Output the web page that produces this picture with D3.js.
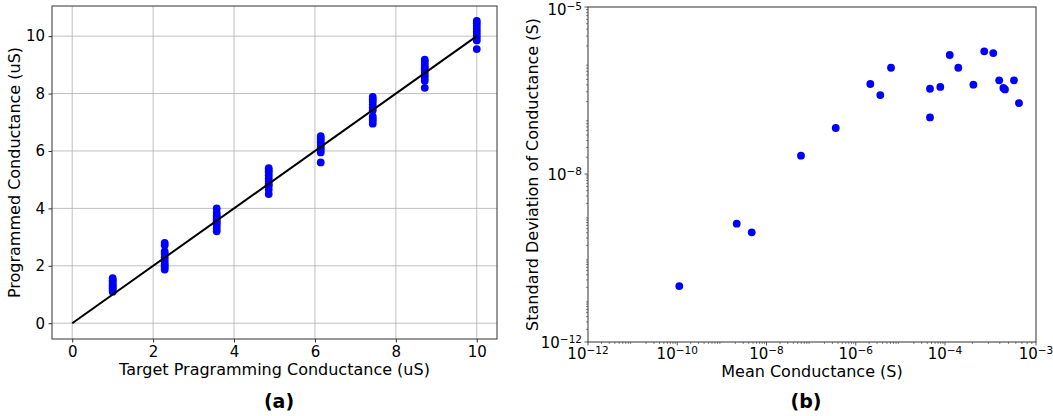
<!DOCTYPE html>
<html>
<head>
<meta charset="utf-8">
<script src="https://cdn.jsdelivr.net/npm/d3@7"></script>
<style>
  body { margin: 0; background: #fff; }
  text { font-family: "DejaVu Sans", sans-serif; fill: #000; }
</style>
</head>
<body>
<svg id="vis" width="1053" height="416"></svg>
<script>
// (a) programmed vs target conductance, uS
const targetLevels = [1, 2.2857, 3.5714, 4.8571, 6.1429, 7.4286, 8.7143, 10];
const programmed = [
  [1.57, 1.5, 1.44, 1.38, 1.32, 1.27, 1.22, 1.16, 1.1],
  [2.8, 2.72, 2.5, 2.42, 2.3, 2.2, 2.1, 2.02, 1.95, 1.87],
  [4.0, 3.85, 3.75, 3.7, 3.62, 3.55, 3.48, 3.4, 3.3, 3.2],
  [5.4, 5.32, 5.25, 5.15, 5.05, 4.95, 4.85, 4.78, 4.65, 4.5],
  [6.52, 6.45, 6.38, 6.3, 6.2, 6.12, 6.05, 5.95, 5.6],
  [7.88, 7.8, 7.72, 7.62, 7.52, 7.42, 7.2, 7.12, 7.05, 6.95],
  [9.18, 9.1, 9.0, 8.92, 8.85, 8.75, 8.65, 8.55, 8.45, 8.2],
  [10.53, 10.45, 10.35, 10.25, 10.15, 10.05, 9.95, 9.85, 9.55]
];
const idealLine = [[0, 0], [10, 10]];
const aTicks = [0, 2, 4, 6, 8, 10];

// (b) std dev vs mean conductance, S
const meanG = [5.93e-8, 3.56e-7, 2.12e-6, 3.55e-6, 6.17e-6, 4.61e-5, 4.61e-5, 7.85e-5,
  1.127e-4, 1.40e-4, 2.05e-4, 2.70e-4, 3.39e-4, 3.94e-4, 4.38e-4, 4.56e-4, 5.73e-4, 6.50e-4,
  1.11e-10, 2.15e-9, 4.66e-9];
const stdG = [2.13e-8, 6.70e-8, 4.14e-7, 2.62e-7, 8.11e-7, 3.40e-7, 1.04e-7, 3.66e-7,
  1.374e-6, 8.11e-7, 4.02e-7, 1.60e-6, 1.49e-6, 4.82e-7, 3.51e-7, 3.30e-7, 4.82e-7, 1.88e-7,
  2.15e-11, 6.56e-10, 4.09e-10];
const bXTicks = [-12, -10, -8, -6, -4, -3];
const bYTicks = [-12, -8, -5];

const svg = d3.select("#vis");
const blue = "#0000ff";
const spine = "#333";

//######## panel (a)
const ax = {left: 52, right: 497, top: 6, bottom: 339};
const x = d3.scaleLinear().domain([-0.5, 10.5]).range([ax.left, ax.right]);
const y = d3.scaleLinear().domain([-0.55, 11.05]).range([ax.bottom, ax.top]);
const ga = svg.append("g");

// grid
ga.selectAll(".gx").data(aTicks).enter().append("line")
  .attr("x1", d => x(d)).attr("x2", d => x(d))
  .attr("y1", ax.top).attr("y2", ax.bottom)
  .attr("stroke", "#b0b0b0").attr("stroke-width", 0.8);
ga.selectAll(".gy").data(aTicks).enter().append("line")
  .attr("x1", ax.left).attr("x2", ax.right)
  .attr("y1", d => y(d)).attr("y2", d => y(d))
  .attr("stroke", "#b0b0b0").attr("stroke-width", 0.8);

// axes
const xa = ga.append("g").attr("transform", "translate(0," + ax.bottom + ")")
  .call(d3.axisBottom(x).tickValues(aTicks).tickSize(3.5).tickPadding(3.5).tickFormat(d3.format("d")));
const ya = ga.append("g").attr("transform", "translate(" + ax.left + ",0)")
  .call(d3.axisLeft(y).tickValues(aTicks).tickSize(3.5).tickPadding(3.5).tickFormat(d3.format("d")));
[xa, ya].forEach(a => {
  a.select(".domain").remove();
  a.selectAll("line").attr("stroke", spine);
  a.selectAll("text").attr("font-size", 15).attr("font-family", "DejaVu Sans");
});

// points
targetLevels.forEach((t, i) => {
  ga.selectAll(null).data(programmed[i]).enter().append("circle")
    .attr("cx", x(t)).attr("cy", d => y(d))
    .attr("r", 3.9).attr("fill", blue);
});

// ideal line
ga.append("path")
  .attr("d", d3.line().x(d => x(d[0])).y(d => y(d[1]))(idealLine))
  .attr("stroke", "#000").attr("stroke-width", 2).attr("fill", "none");

ga.append("rect")
  .attr("x", ax.left).attr("y", ax.top)
  .attr("width", ax.right - ax.left).attr("height", ax.bottom - ax.top)
  .attr("fill", "none").attr("stroke", spine).attr("stroke-width", 1);

ga.append("text").attr("x", (ax.left + ax.right) / 2).attr("y", 375)
  .attr("text-anchor", "middle").attr("font-size", 16)
  .text("Target Pragramming Conductance (uS)");
ga.append("text").attr("transform", "translate(20," + ((ax.top + ax.bottom) / 2) + ") rotate(-90)")
  .attr("text-anchor", "middle").attr("font-size", 16)
  .text("Programmed Conductance (uS)");

//######## panel (b)
const bx = {left: 588, right: 1036, top: 7, bottom: 342};
// tick labels are not evenly spaced in decades, so piecewise log scales
const xb = d3.scaleLog().domain([1e-12, 1e-4, 1e-3]).range([bx.left, 945, bx.right]);
const yb = d3.scaleLog().domain([1e-12, 1e-8, 1e-5]).range([bx.bottom, 174, bx.top]);
const gb = svg.append("g");

// minor ticks
let minorX = [], minorY = [];
for (let e = -12; e < -3; e++) {
  for (let k = 2; k < 10; k++) {
    minorX.push(k * Math.pow(10, e));
    if (e < -5) minorY.push(k * Math.pow(10, e));
  }
}
gb.selectAll(".mx").data(minorX).enter().append("line")
  .attr("x1", d => xb(d)).attr("x2", d => xb(d))
  .attr("y1", bx.bottom).attr("y2", bx.bottom + 2)
  .attr("stroke", spine).attr("stroke-width", 0.6);
gb.selectAll(".my").data(minorY).enter().append("line")
  .attr("x1", bx.left - 2).attr("x2", bx.left)
  .attr("y1", d => yb(d)).attr("y2", d => yb(d))
  .attr("stroke", spine).attr("stroke-width", 0.6);

// major ticks + labels
gb.selectAll(".tx").data(bXTicks).enter().append("line")
  .attr("x1", d => xb(Math.pow(10, d))).attr("x2", d => xb(Math.pow(10, d)))
  .attr("y1", bx.bottom).attr("y2", bx.bottom + 3.5)
  .attr("stroke", spine).attr("stroke-width", 0.8);
gb.selectAll(".ty").data(bYTicks).enter().append("line")
  .attr("x1", bx.left - 3.5).attr("x2", bx.left)
  .attr("y1", d => yb(Math.pow(10, d))).attr("y2", d => yb(Math.pow(10, d)))
  .attr("stroke", spine).attr("stroke-width", 0.8);

function powLabel(sel) {
  sel.each(function(d) {
    const t = d3.select(this);
    t.append("tspan").text("10");
    t.append("tspan").attr("dy", -5.5).attr("font-size", 10.5).text("\u2212" + Math.abs(d));
  });
}
gb.selectAll(".lx").data(bXTicks).enter().append("text")
  .attr("x", d => xb(Math.pow(10, d))).attr("y", bx.bottom + 17)
  .attr("text-anchor", "middle").attr("font-size", 15)
  .call(powLabel);
gb.selectAll(".ly").data(bYTicks).enter().append("text")
  .attr("x", bx.left - 6).attr("y", d => Math.max(yb(Math.pow(10, d)) + 6, 15))
  .attr("text-anchor", "end").attr("font-size", 15)
  .call(powLabel);

gb.selectAll(".pt").data(meanG).enter().append("circle")
  .attr("cx", d => xb(d)).attr("cy", (d, i) => yb(stdG[i]))
  .attr("r", 3.9).attr("fill", blue);

gb.append("rect")
  .attr("x", bx.left).attr("y", bx.top)
  .attr("width", bx.right - bx.left).attr("height", bx.bottom - bx.top)
  .attr("fill", "none").attr("stroke", spine).attr("stroke-width", 1);

gb.append("text").attr("x", (bx.left + bx.right) / 2).attr("y", 377)
  .attr("text-anchor", "middle").attr("font-size", 16)
  .text("Mean Conductance (S)");
gb.append("text").attr("transform", "translate(538," + ((bx.top + bx.bottom) / 2) + ") rotate(-90)")
  .attr("text-anchor", "middle").attr("font-size", 16)
  .text("Standard Deviation of Conductance (S)");

// captions
svg.append("text").attr("x", 279).attr("y", 408).attr("text-anchor", "middle")
  .attr("font-size", 19).attr("font-weight", "bold").attr("font-family", "Liberation Sans")
  .text("(a)");
svg.append("text").attr("x", 806).attr("y", 408).attr("text-anchor", "middle")
  .attr("font-size", 19).attr("font-weight", "bold").attr("font-family", "Liberation Sans")
  .text("(b)");
</script>
</body>
</html>
